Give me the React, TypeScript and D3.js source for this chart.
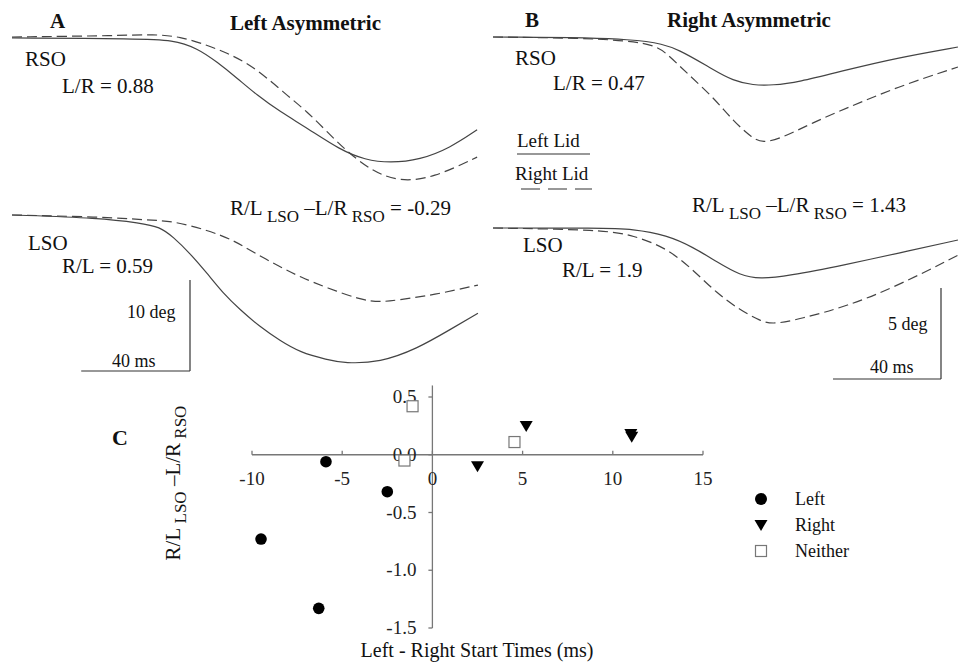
import React, { useEffect } from 'react';
import * as d3 from 'd3';

// ---------- Traces: [time ms, lid position deg] ----------
const aRsoSolid: [number, number][] = [
  [0, -0.1], [47, -0.2], [59, -0.33], [68, -1.2], [75.4, -2.75], [82.7, -4.5], [90.1, -6.4],
  [98.5, -8.2], [108.5, -10.0], [120.6, -12.4], [129.8, -13.5], [139, -13.85], [150, -13.5],
  [161, -12.2], [171, -10.2],
];
const aRsoDashed: [number, number][] = [
  [0, 0], [40, 0.15], [52, 0.3], [61.8, 0.05], [71.7, -0.9], [79, -1.75], [86.4, -2.85],
  [93.8, -4.5], [101.1, -6.4], [108.5, -8.2], [115.8, -10.4], [123.2, -12.6], [132.7, -14.8],
  [142.6, -15.9], [154.8, -15.5], [171, -13.2],
];
const aLsoSolid: [number, number][] = [
  [0, 0], [32.4, -0.33], [47.1, -0.88], [54.4, -1.3], [59.2, -2.4], [65.4, -4.2], [71.7, -6.4],
  [77.6, -8.6], [83.8, -10.4], [91.2, -12.3], [98.5, -13.8], [105.9, -15.1], [115.8, -15.9],
  [122.4, -16.3], [135.3, -16.2], [148.9, -14.7], [161, -12.6], [171.3, -10.8],
];
const aLsoDashed: [number, number][] = [
  [0, 0], [32.4, -0.2], [49.6, -0.55], [59.2, -0.66], [71.7, -1.65], [81.3, -2.75], [88.6, -4.07],
  [98.5, -5.7], [105.9, -6.8], [115.8, -8.0], [127.9, -9.3], [135.3, -9.6], [142.6, -9.3],
  [154.8, -8.8], [171.3, -7.7],
];
const bRsoSolid: [number, number][] = [
  [0, 0], [57, -0.05], [69.3, -0.7], [81.5, -1.8], [88.9, -2.4], [96.3, -2.65], [103.7, -2.65],
  [112.6, -2.5], [131.1, -1.8], [149.6, -1.15], [172.2, -0.55],
];
const bRsoDashed: [number, number][] = [
  [0, 0], [57, -0.1], [64.4, -0.9], [71.9, -2.0], [81.5, -3.3], [88.9, -4.6], [96.3, -5.6],
  [100, -5.8], [106.3, -5.6], [118.5, -4.7], [131.1, -3.9], [149.6, -2.75], [172.2, -1.65],
];
const bLsoSolid: [number, number][] = [
  [0, 0], [39.6, 0], [51.9, -0.05], [64.4, -0.4], [74.1, -1.05], [83, -1.87], [91.5, -2.6],
  [98.9, -2.8], [108.9, -2.65], [131.1, -2.0], [149.6, -1.4], [172.2, -0.66],
];
const bLsoDashed: [number, number][] = [
  [0, 0], [40.7, -0.1], [51.9, -0.4], [64.4, -1.1], [74.1, -2.3], [83, -3.6], [91.5, -4.5],
  [98.9, -5.1], [103.7, -5.3], [113.7, -5.0], [131.1, -4.3], [149.6, -3.2], [172.2, -1.5],
];

// ---------- Scatter ----------
const leftPts = [
  { x: -5.9, y: -0.06 }, { x: -2.5, y: -0.32 }, { x: -9.5, y: -0.73 }, { x: -6.3, y: -1.33 },
];
const rightPts = [
  { x: 2.5, y: -0.1 }, { x: 5.2, y: 0.25 }, { x: 11.0, y: 0.18 }, { x: 11.05, y: 0.155 },
];
const neitherPts = [
  { x: -1.1, y: 0.42 }, { x: -1.55, y: -0.05 }, { x: 4.55, y: 0.11 },
];
const xTicks = [-10, -5, 0, 5, 10, 15];
const yTicks = [0.5, 0.0, -0.5, -1.0, -1.5];
const legendItems = ['Left', 'Right', 'Neither'];

const FONT = "'Liberation Serif', 'Times New Roman', Times, serif";
const TRACE = '#444';
const DASH = '10,5';

function ratioLabel(x: number, y: number, value: string, key: string) {
  return (
    <text key={key} x={x} y={y} fontSize={21} style={{ fontFamily: FONT }} fill="#111">
      <tspan>R/L</tspan>
      <tspan fontSize={17} dy={7}> LSO</tspan>
      <tspan dy={-7}> –L/R</tspan>
      <tspan fontSize={17} dy={7}> RSO</tspan>
      <tspan dy={-7}>{`  = ${value}`}</tspan>
    </text>
  );
}

function Panel({
  x0, pxPerMs, topBase, botBase, pxPerDeg, rsoS, rsoD, lsoS, lsoD,
}: {
  x0: number; pxPerMs: number; topBase: number; botBase: number; pxPerDeg: number;
  rsoS: [number, number][]; rsoD: [number, number][]; lsoS: [number, number][]; lsoD: [number, number][];
}) {
  const x = d3.scaleLinear().domain([0, 180]).range([x0, x0 + 180 * pxPerMs]);
  const yTop = d3.scaleLinear().domain([0, -20]).range([topBase, topBase + 20 * pxPerDeg]);
  const yBot = d3.scaleLinear().domain([0, -20]).range([botBase, botBase + 20 * pxPerDeg]);
  const curve = d3.curveBasis;
  const lineT = d3.line<[number, number]>().x(d => x(d[0])).y(d => yTop(d[1])).curve(curve);
  const lineB = d3.line<[number, number]>().x(d => x(d[0])).y(d => yBot(d[1])).curve(curve);
  return (
    <g fill="none" stroke={TRACE} strokeWidth={1.2}>
      <path d={lineT(rsoS) || ''} />
      <path d={lineT(rsoD) || ''} strokeDasharray={DASH} />
      <path d={lineB(lsoS) || ''} />
      <path d={lineB(lsoD) || ''} strokeDasharray={DASH} />
    </g>
  );
}

function ScaleBar({ xRight, yBottom, msLen, degLen, pxPerMs, pxPerDeg, degLabel, degLabelX, degLabelY, msLabelX, msLabelY }: any) {
  const sx = d3.scaleLinear().domain([0, msLen]).range([xRight - msLen * pxPerMs, xRight]);
  const sy = d3.scaleLinear().domain([0, degLen]).range([yBottom, yBottom - degLen * pxPerDeg]);
  return (
    <g>
      <line x1={xRight} x2={xRight} y1={sy(0)} y2={sy(degLen)} stroke="#333" strokeWidth={1.2} />
      <line x1={sx(0)} x2={sx(msLen)} y1={yBottom} y2={yBottom} stroke="#333" strokeWidth={1.2} />
      <text x={degLabelX} y={degLabelY} fontSize={18} style={{ fontFamily: FONT }} fill="#111">{degLabel}</text>
      <text x={msLabelX} y={msLabelY} fontSize={18} style={{ fontFamily: FONT }} fill="#111">{`${msLen} ms`}</text>
    </g>
  );
}

const triPath = 'M-6.5,-5 L6.5,-5 L0,6 Z';

function T({ x, y, size = 21, bold = false, children, anchor }: any) {
  return (
    <text x={x} y={y} fontSize={size} fontWeight={bold ? 'bold' : 'normal'} textAnchor={anchor}
      style={{ fontFamily: FONT }} fill="#111">{children}</text>
  );
}

export default function App() {
  useEffect(() => {
    document.body.style.margin = '0';
  }, []);

  const sx = d3.scaleLinear().domain([-10, 15]).range([252, 703]);
  const sy = d3.scaleLinear().domain([-1.5, 0.5]).range([628, 397]);
  const axisColor = '#777';

  return (
    <svg width={965} height={663} style={{ display: 'block', background: '#fff' }}>
      {/* Panel A */}
      <T x={50} y={28} bold>A</T>
      <T x={230} y={30} bold>Left Asymmetric</T>
      <T x={25} y={66}>RSO</T>
      <T x={62} y={93}>L/R = 0.88</T>
      {ratioLabel(230, 215, '-0.29', 'ra')}
      <T x={28} y={250}>LSO</T>
      <T x={62} y={273}>R/L = 0.59</T>
      <Panel x0={12} pxPerMs={2.72} topBase={37} botBase={215} pxPerDeg={9.1}
        rsoS={aRsoSolid} rsoD={aRsoDashed} lsoS={aLsoSolid} lsoD={aLsoDashed} />
      <ScaleBar xRight={190} yBottom={371} msLen={40} degLen={10} pxPerMs={2.72} pxPerDeg={9.1}
        degLabel="10 deg" degLabelX={127} degLabelY={318} msLabelX={112} msLabelY={367} />

      {/* Panel B */}
      <T x={525} y={27} bold>B</T>
      <T x={667} y={27} bold>Right Asymmetric</T>
      <T x={515} y={65}>RSO</T>
      <T x={553} y={90}>L/R = 0.47</T>
      <T x={517} y={147} size={19}>Left Lid</T>
      <line x1={517} x2={590} y1={154} y2={154} stroke="#333" strokeWidth={1.2} />
      <T x={515} y={180} size={19}>Right Lid</T>
      <line x1={521} x2={592} y1={189} y2={189} stroke="#333" strokeWidth={1.2} strokeDasharray="19,8" />
      {ratioLabel(692, 212, '1.43', 'rb')}
      <T x={523} y={252}>LSO</T>
      <T x={562} y={277}>R/L = 1.9</T>
      <Panel x0={493} pxPerMs={2.7} topBase={37} botBase={228} pxPerDeg={18.2}
        rsoS={bRsoSolid} rsoD={bRsoDashed} lsoS={bLsoSolid} lsoD={bLsoDashed} />
      <ScaleBar xRight={941} yBottom={379} msLen={40} degLen={5} pxPerMs={2.7} pxPerDeg={18.2}
        degLabel="5 deg" degLabelX={888} degLabelY={330} msLabelX={870} msLabelY={373} />

      {/* Panel C */}
      <T x={112} y={445} size={22} bold>C</T>
      <g stroke={axisColor} strokeWidth={1.3}>
        <line x1={sx(-10)} x2={sx(15)} y1={sy(0)} y2={sy(0)} />
        <line x1={sx(0)} x2={sx(0)} y1={sy(-1.5)} y2={sy(0.6)} />
        {xTicks.map(t => (
          <line key={`xt${t}`} x1={sx(t)} x2={sx(t)} y1={sy(0)} y2={sy(0) - 4} />
        ))}
        {yTicks.map(t => (
          <line key={`yt${t}`} x1={sx(0) - 4} x2={sx(0)} y1={sy(t)} y2={sy(t)} />
        ))}
      </g>
      {xTicks.map(t => (
        <text key={`xl${t}`} x={sx(t)} y={sy(0) + 30} fontSize={19} style={{ fontFamily: FONT }} fill="#222" textAnchor="middle">{t}</text>
      ))}
      {yTicks.map(t => (
        <text key={`yl${t}`} x={sx(0) - 16} y={sy(t) + 6} fontSize={19} style={{ fontFamily: FONT }} fill="#222" textAnchor="end">{t.toFixed(1)}</text>
      ))}
      {leftPts.map((p, i) => (
        <circle key={`l${i}`} cx={sx(p.x)} cy={sy(p.y)} r={5.8} fill="#000" />
      ))}
      {rightPts.map((p, i) => (
        <path key={`r${i}`} d={triPath} transform={`translate(${sx(p.x)},${sy(p.y)})`} fill="#000" />
      ))}
      {neitherPts.map((p, i) => (
        <rect key={`n${i}`} x={sx(p.x) - 5.5} y={sy(p.y) - 5.5} width={11} height={11} fill="#fff" stroke="#777" strokeWidth={1.2} />
      ))}
      <T x={477} y={657} size={20} anchor="middle">Left - Right Start Times (ms)</T>
      <text transform="translate(180,483) rotate(-90)" fontSize={21} style={{ fontFamily: FONT }} fill="#111" textAnchor="middle">
        <tspan>R/L</tspan>
        <tspan fontSize={17} dy={6}> LSO</tspan>
        <tspan dy={-6}> –L/R</tspan>
        <tspan fontSize={17} dy={6}> RSO</tspan>
      </text>

      {/* Legend */}
      {legendItems.map((name, i) => {
        const cy = 499 + i * 26;
        return (
          <g key={name}>
            {i === 0 && <circle cx={761} cy={cy} r={6} fill="#000" />}
            {i === 1 && <path d={triPath} transform={`translate(761,${cy})`} fill="#000" />}
            {i === 2 && <rect x={755.5} y={cy - 5.5} width={11} height={11} fill="#fff" stroke="#777" strokeWidth={1.2} />}
            <T x={795} y={cy + 6} size={18}>{name}</T>
          </g>
        );
      })}
    </svg>
  );
}
